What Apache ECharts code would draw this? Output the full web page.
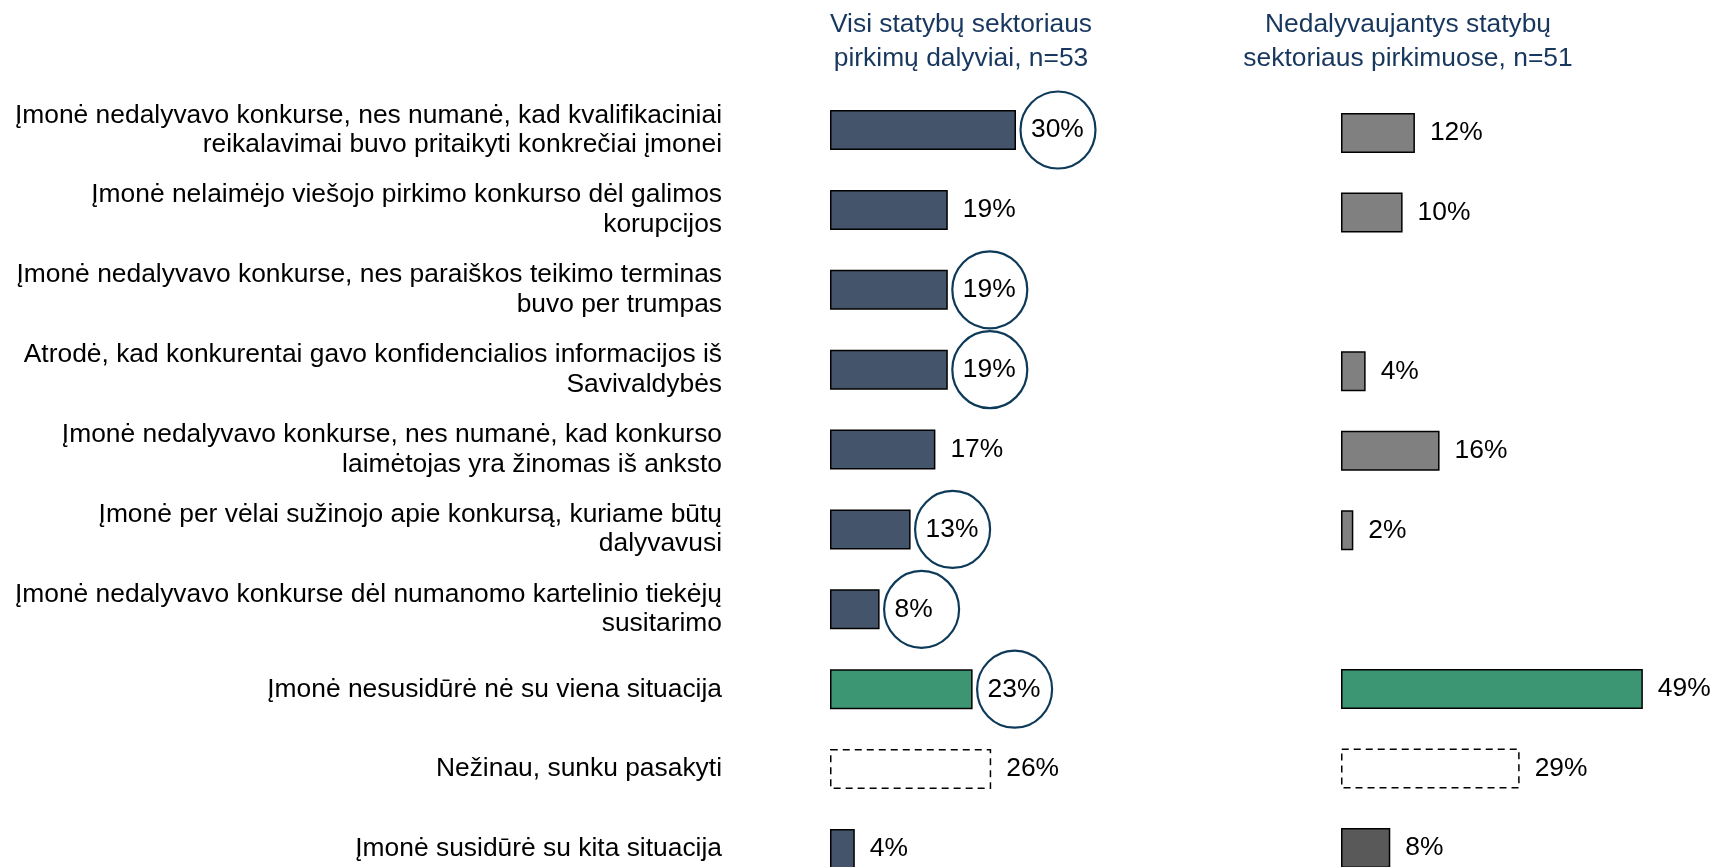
<!DOCTYPE html>
<html>
<head>
<meta charset="utf-8">
<script src="https://cdn.jsdelivr.net/npm/echarts@6/dist/echarts.min.js"></script>
<style>
html,body{margin:0;padding:0;background:#fff;}
#chart{width:1715px;height:867px;}
</style>
</head>
<body>
<div id="chart"></div>
<script>
// ---- data ----
var categories = [
  "Įmonė nedalyvavo konkurse, nes numanė, kad kvalifikaciniai\nreikalavimai buvo pritaikyti konkrečiai įmonei",
  "Įmonė nelaimėjo viešojo pirkimo konkurso dėl galimos\nkorupcijos",
  "Įmonė nedalyvavo konkurse, nes paraiškos teikimo terminas\nbuvo per trumpas",
  "Atrodė, kad konkurentai gavo konfidencialios informacijos iš\nSavivaldybės",
  "Įmonė nedalyvavo konkurse, nes numanė, kad konkurso\nlaimėtojas yra žinomas iš anksto",
  "Įmonė per vėlai sužinojo apie konkursą, kuriame būtų\ndalyvavusi",
  "Įmonė nedalyvavo konkurse dėl numanomo kartelinio tiekėjų\nsusitarimo",
  "Įmonė nesusidūrė nė su viena situacija",
  "Nežinau, sunku pasakyti",
  "Įmonė susidūrė su kita situacija"
];
var seriesTitles = ["Visi statybų sektoriaus\npirkimų dalyviai, n=53", "Nedalyvaujantys statybų\nsektoriaus pirkimuose, n=51"];
var allParticipants = [30, 19, 19, 19, 17, 13, 8, 23, 26, 4];
var nonParticipants = [12, 10, null, 4, 16, 2, null, 49, 29, 8];
var circledAll = [true, false, true, true, false, true, true, true, false, false];
var rowKinds = ["base","base","base","base","base","base","base","none","unknown","other"];

// ---- styles ----
var FONT = "'Liberation Sans', Arial, sans-serif";
var TITLE_COLOR = "#17375E";
var CIRCLE_COLOR = "#0E3A5A";
function styleFor(kind, panel) {
  var base = {borderColor: "#000", borderWidth: 1.5};
  if (kind === "none") return Object.assign(base, {color: "#3C9673"});
  if (kind === "unknown") return Object.assign(base, {color: "#fff", borderType: [7, 5], borderWidth: 1.5});
  if (kind === "other") return Object.assign(base, {color: panel === 0 ? "#44546A" : "#595959"});
  return Object.assign(base, {color: panel === 0 ? "#44546A" : "#808080"});
}
function barData(values, panel) {
  return values.map(function (v, i) {
    if (v === null) return {value: '-'};
    return {value: v, itemStyle: styleFor(rowKinds[i], panel)};
  });
}
var labelCfg = {
  show: true, position: "right", distance: 15,
  formatter: function (p) { return p.value + "%"; },
  color: "#000", fontSize: 26.4, fontFamily: FONT
};

var chart = echarts.init(document.getElementById("chart"), null, {renderer: "canvas"});
chart.setOption({
  animation: false,
  backgroundColor: "#fff",
  graphic: [
    {type: "text", x: 961, y: 8, style: {text: seriesTitles[0], align: "center", verticalAlign: "top", fontSize: 26.4, fontFamily: FONT, lineHeight: 34, fill: TITLE_COLOR}},
    {type: "text", x: 1408, y: 8, style: {text: seriesTitles[1], align: "center", verticalAlign: "top", fontSize: 26.4, fontFamily: FONT, lineHeight: 34, fill: TITLE_COLOR}}
  ],
  grid: [
    {left: 830, top: 130, width: 310, height: 719},
    {left: 1341, top: 133, width: 308, height: 715}
  ],
  xAxis: [
    {gridIndex: 0, type: "value", min: 0, max: 50, show: false},
    {gridIndex: 1, type: "value", min: 0, max: 50, show: false}
  ],
  yAxis: [
    {gridIndex: 0, type: "category", inverse: true, boundaryGap: false, data: categories,
     axisLine: {show: false}, axisTick: {show: false}, splitLine: {show: false},
     axisLabel: {margin: 108, color: "#000", fontSize: 26.4, fontFamily: FONT, lineHeight: 29.5, align: "right", interval: 0, padding: [5, 0, 0, 0]}},
    {gridIndex: 1, type: "category", inverse: true, boundaryGap: false, data: categories, show: false}
  ],
  series: [
    {type: "bar", xAxisIndex: 0, yAxisIndex: 0, barWidth: 40, clip: false, data: barData(allParticipants, 0), label: labelCfg, z: 2},
    {type: "bar", xAxisIndex: 1, yAxisIndex: 1, barWidth: 40, clip: false, data: barData(nonParticipants, 1), label: labelCfg, z: 2},
    {type: "scatter", xAxisIndex: 0, yAxisIndex: 0, symbol: "circle", symbolSize: [75, 77], symbolOffset: [42, 0], clip: false,
     itemStyle: {color: "rgba(0,0,0,0)", borderColor: CIRCLE_COLOR, borderWidth: 2.2, opacity: 1},
     emphasis: {disabled: true}, silent: true, z: 3,
     data: allParticipants.map(function (v, i) { return circledAll[i] ? [v, i] : ['-', i]; })}
  ]
});
</script>
</body>
</html>
